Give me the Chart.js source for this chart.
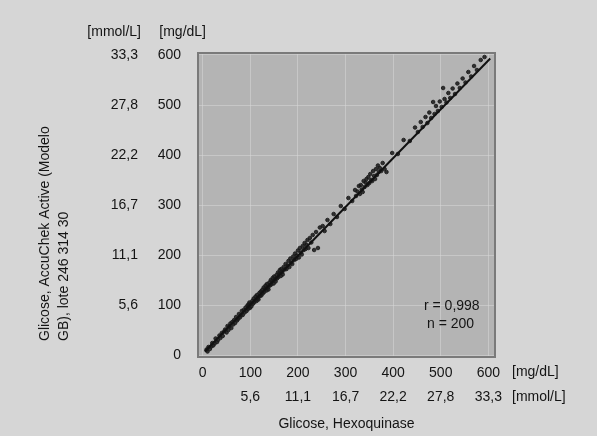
<!DOCTYPE html>
<html>
<head>
<meta charset="utf-8">
<script src="https://cdn.jsdelivr.net/npm/chart.js@4.4.0/dist/chart.umd.min.js"></script>
<style>
  html, body { margin: 0; padding: 0; background: #d6d6d6; }
  #wrap { width: 597px; height: 436px; }
</style>
</head>
<body>
<div id="wrap"><canvas id="chart" width="597" height="436"></canvas></div>
<script>
  // tick values and labels (mg/dL and mmol/L are on the same positions)
  const tickValues = [0, 100, 200, 300, 400, 500, 600];
  const mgLabels = ["0", "100", "200", "300", "400", "500", "600"];
  const mmolLabels = ["", "5,6", "11,1", "16,7", "22,2", "27,8", "33,3"];

  // Hexoquinase (x) vs AccuChek (y), mg/dL
  const hexo = [
    8, 10, 12, 15, 18, 20, 22, 25, 27, 30, 32, 35, 37, 40, 42, 45, 47, 50, 52, 54,
    56, 58, 60, 62, 64, 66, 68, 70, 72, 74, 76, 78, 80, 82, 84, 86, 88, 90, 92, 94,
    95, 96, 97, 98, 99,
    101, 102, 104, 105, 107, 108, 110, 111, 113, 114, 116, 117, 119, 120, 122, 123, 125, 126, 128, 129,
    131, 132, 134, 135, 137, 138, 140, 141, 143, 144, 146, 147, 149, 150, 152, 153, 155, 156, 158, 159,
    161, 162, 164, 165, 167, 168, 170, 172, 174, 176, 178, 180, 182, 184, 186, 188, 190, 192, 194, 196,
    198, 200, 202, 204, 206, 208, 210, 212, 214, 216, 218, 220, 222, 225, 228, 231, 234, 238, 242, 246,
    252, 256, 262, 268, 275, 282, 290, 298, 306, 314,
    320, 322, 325, 328, 330, 332, 334, 336, 338, 340, 342, 344, 346, 348, 350, 352, 354, 356, 358, 360,
    362, 364, 366, 368, 370, 372, 375, 378, 382, 386,
    398, 410, 422, 435, 446,
    452, 458, 462, 468, 472, 476, 480, 484, 487, 490, 494, 498, 502, 505, 508, 512, 516, 520, 525, 530,
    535, 540, 546, 552, 558, 564, 570, 576, 584, 592
  ];
  const accu = [
    11, 7, 16, 12, 17, 24, 19, 23, 33, 26, 30, 39, 34, 44, 38, 47, 51, 45, 58, 50,
    57, 63, 54, 66, 61, 70, 64, 76, 69, 72, 82, 75, 79, 88, 80, 90, 85, 95, 88, 99,
    92, 101, 96, 105, 94,
    103, 97, 108, 102, 113, 105, 109, 117, 108, 120, 114, 111, 124, 118, 127, 119, 130, 123, 135, 126,
    132, 139, 129, 142, 135, 131, 145, 139, 150, 141, 148, 154, 143, 157, 151, 147, 160, 153, 165, 156,
    163, 170, 158, 172, 166, 161, 176, 171, 182, 172, 179, 188, 176, 193, 185, 182, 197, 190, 203, 192,
    199, 209, 195, 214, 205, 201, 218, 210, 224, 212, 220, 230, 214, 234, 225, 240, 210, 246, 214, 255,
    258, 248, 270, 262, 282, 276, 298, 292, 314, 308,
    330, 318, 327, 338, 322, 340, 331, 326, 348, 336, 345, 352, 340, 356, 344, 362, 350, 348, 368, 358,
    352, 372, 360, 379, 366, 374, 368, 384, 372, 366,
    404, 402, 430, 428, 455,
    446, 466, 456, 476, 464, 485, 474, 506, 482, 498, 488, 507, 496, 534, 512, 505, 524, 514, 533, 522,
    543, 534, 553, 545, 566, 557, 578, 570, 590, 596
  ];

  // regression line end points
  const fitX = [4, 604];
  const fitY = [7, 593];

  const points = hexo.map((v, i) => ({ x: v, y: accu[i] }));
  const fitLine = fitX.map((v, i) => ({ x: v, y: fitY[i] }));

  const FONT = "Liberation Sans, Arial, sans-serif";
  const SIZE = 14;
  const INK = "#141414";

  function fixTicks(scale) {
    scale.ticks = tickValues.map(v => ({ value: v }));
  }

  const decor = {
    id: "decor",
    beforeDraw(chart) {
      let ctx = chart.ctx;
      let a = chart.chartArea;
      ctx.save();
      ctx.fillStyle = "#d6d6d6";
      ctx.fillRect(0, 0, chart.width, chart.height);
      ctx.fillStyle = "#b4b4b4";
      ctx.fillRect(a.left, a.top, a.right - a.left, a.bottom - a.top);
      ctx.restore();
    },
    afterDraw(chart) {
      let ctx = chart.ctx;
      let a = chart.chartArea;
      ctx.save();
      ctx.strokeStyle = "#7a7a7a";
      ctx.lineWidth = 2;
      ctx.strokeRect(a.left, a.top, a.right - a.left, a.bottom - a.top);

      ctx.fillStyle = INK;
      ctx.font = SIZE + "px " + FONT;
      ctx.textBaseline = "middle";
      ctx.textAlign = "right";
      ctx.fillText("[mmol/L]", 141, 32);
      ctx.fillText("[mg/dL]", 206, 32);
      ctx.textAlign = "left";
      ctx.fillText("[mg/dL]", 512, 372);
      ctx.fillText("[mmol/L]", 512, 397);
      ctx.fillText("r = 0,998", 424, 306);
      ctx.fillText("n = 200", 427, 324);

      // y title, two lines, rotated
      ctx.translate(0, 341);
      ctx.rotate(-Math.PI / 2);
      ctx.fillText("Glicose, AccuChek Active (Modelo", 0, 45);
      ctx.fillText("GB), lote 246 314 30", 0, 64);
      ctx.restore();
    }
  };

  new Chart(document.getElementById("chart"), {
    type: "scatter",
    data: {
      datasets: [
        {
          type: "line",
          data: fitLine,
          borderColor: "#111111",
          borderWidth: 2,
          pointRadius: 0,
          order: 1
        },
        {
          data: points,
          backgroundColor: "rgba(25, 25, 25, 0.85)",
          borderColor: "rgba(25, 25, 25, 0.85)",
          pointRadius: 1.8,
          order: 2
        }
      ]
    },
    options: {
      responsive: false,
      animation: false,
      layout: { padding: { left: 0, top: 53, right: 102, bottom: 0 } },
      plugins: {
        legend: { display: false },
        tooltip: { enabled: false }
      },
      scales: {
        x: {
          type: "linear",
          position: "bottom",
          weight: 0,
          min: -10,
          max: 614,
          afterBuildTicks: fixTicks,
          afterFit: s => { s.height = 24; },
          border: { display: false },
          grid: { color: "rgba(215, 215, 215, 0.55)", drawTicks: false },
          ticks: {
            padding: 8,
            color: INK,
            font: { family: FONT, size: SIZE },
            callback: (v) => mgLabels[tickValues.indexOf(v)]
          }
        },
        x2: {
          type: "linear",
          position: "bottom",
          weight: 1,
          min: -10,
          max: 614,
          afterBuildTicks: fixTicks,
          afterFit: s => { s.height = 55; },
          border: { display: false },
          grid: { display: false, drawTicks: false },
          ticks: {
            padding: 8,
            color: INK,
            font: { family: FONT, size: SIZE },
            callback: (v) => mmolLabels[tickValues.indexOf(v)]
          },
          title: {
            display: true,
            text: "Glicose, Hexoquinase",
            color: INK,
            font: { family: FONT, size: SIZE },
            padding: { top: 11, bottom: 3 }
          }
        },
        y: {
          type: "linear",
          position: "left",
          weight: 0,
          min: -4,
          max: 604,
          afterBuildTicks: fixTicks,
          afterFit: s => { s.width = 58; },
          border: { display: false },
          grid: { color: "rgba(215, 215, 215, 0.55)", drawTicks: false },
          ticks: {
            padding: 17,
            color: INK,
            font: { family: FONT, size: SIZE },
            callback: (v) => mgLabels[tickValues.indexOf(v)]
          }
        },
        y2: {
          type: "linear",
          position: "left",
          weight: 1,
          min: -4,
          max: 604,
          afterBuildTicks: fixTicks,
          afterFit: s => { s.width = 140; },
          border: { display: false },
          grid: { display: false, drawTicks: false },
          ticks: {
            padding: 2,
            color: INK,
            font: { family: FONT, size: SIZE },
            callback: (v) => mmolLabels[tickValues.indexOf(v)]
          }
        }
      }
    },
    plugins: [decor]
  });
</script>
</body>
</html>
